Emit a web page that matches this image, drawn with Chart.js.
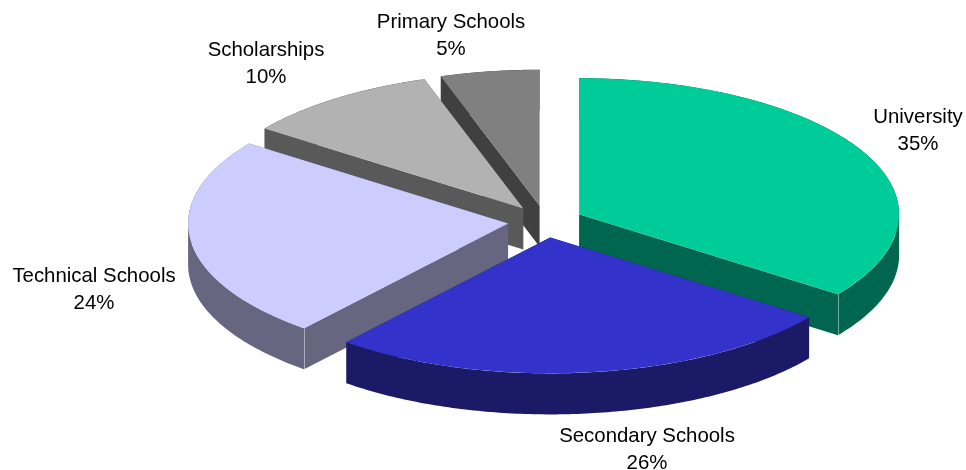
<!DOCTYPE html>
<html>
<head>
<meta charset="utf-8">
<title>Budget shares</title>
<script src="https://cdn.jsdelivr.net/npm/chart.js@4/dist/chart.umd.min.js"></script>
<style>
	html, body { margin: 0; padding: 0; background: #fff; }
	canvas { display: block; }
</style>
</head>
<body>
<canvas id="cnv_pie" width="966" height="470"></canvas>
<script>
const categories = ["University", "Secondary Schools", "Technical Schools", "Scholarships", "Primary Schools"];
const shares = [35, 26, 24, 10, 5];
const topColors = ["#00CC99", "#3333CC", "#CCCCFF", "#B2B2B2", "#808080"];
const wallColors = ["#006650", "#1A1A66", "#666680", "#595959", "#404040"];

// back slices first so the front ones cover their walls
const drawOrder = [4, 3, 2, 0, 1];

const labelCenters = [[918, 117], [647, 436], [94, 276], [266, 50], [451, 22]];

const pieRadius = 320;
const pieCenterY = 221.5;
const flatten = 0.425;
const explode = 37.7;
const depth = 41;

// Point of an arc on the tilted plane, pushed out along its middle angle
const project = (arc, angle, radius) => {
	const mid = (arc.startAngle + arc.endAngle) / 2;
	return {
		x: arc.x + Math.cos(mid) * explode + Math.cos(angle) * radius,
		y: pieCenterY + (Math.sin(mid) * explode + Math.sin(angle) * radius) * flatten
	};
}

const drawTop = (ctx, arc) => {
	const mid = (arc.startAngle + arc.endAngle) / 2;
	ctx.save();
	ctx.translate(0, pieCenterY);
	ctx.scale(1, flatten);
	ctx.translate(Math.cos(mid) * explode, -arc.y + Math.sin(mid) * explode);
	arc.draw(ctx);
	ctx.restore();
}

// The wall is one filled path: a band hanging under every edge of the slice
const drawWall = (ctx, arc, color) => {
	const outline = [project(arc, arc.startAngle, 0)];
	const steps = 120;
	for (let s = 0; s <= steps; s++) {
		const angle = arc.startAngle + (arc.endAngle - arc.startAngle) * s / steps;
		outline.push(project(arc, angle, arc.outerRadius));
	}
	outline.push(outline[0]);

	ctx.save();
	ctx.fillStyle = color;
	ctx.beginPath();
	for (let s = 0; s < outline.length - 1; s++) {
		const [p, q] = outline[s].x <= outline[s + 1].x ? [outline[s], outline[s + 1]] : [outline[s + 1], outline[s]];
		ctx.moveTo(p.x, p.y);
		ctx.lineTo(q.x, q.y);
		ctx.lineTo(q.x, q.y + depth);
		ctx.lineTo(p.x, p.y + depth);
		ctx.closePath();
	}
	ctx.fill();
	ctx.restore();
}

// Thin light line on the corner where the curved wall meets the cut wall
const drawSeam = (ctx, arc, angle) => {
	const { x, y } = project(arc, angle, arc.outerRadius);
	ctx.save();
	ctx.strokeStyle = "rgba(255,255,255,0.45)";
	ctx.lineWidth = 1;
	ctx.beginPath();
	ctx.moveTo(Math.round(x) + 0.5, y);
	ctx.lineTo(Math.round(x) + 0.5, y + depth);
	ctx.stroke();
	ctx.restore();
}

const tiltedPie = {
	id: "tiltedPie",
	beforeDatasetDraw(chart, args) {
		const ctx = chart.ctx;
		const arcs = args.meta.data;
		drawOrder.forEach(i => {
			drawWall(ctx, arcs[i], wallColors[i]);
			if (i === 0) drawSeam(ctx, arcs[i], arcs[i].endAngle);
			if (i === 2) drawSeam(ctx, arcs[i], arcs[i].startAngle);
			drawTop(ctx, arcs[i]);
		});
		return false;
	},
	afterDraw(chart) {
		const ctx = chart.ctx;
		ctx.save();
		ctx.fillStyle = "#000";
		ctx.font = '20.4px "Liberation Sans"';
		ctx.textAlign = "center";
		ctx.textBaseline = "middle";
		categories.forEach((name, i) => {
			const [x, y] = labelCenters[i];
			ctx.fillText(name, x, y);
			ctx.fillText(`${shares[i]}%`, x, y + 27.5);
		});
		ctx.restore();
	}
}

new Chart(document.getElementById("cnv_pie").getContext("2d"), {
	type: "pie",
	plugins: [tiltedPie],
	data: {
		labels: categories,
		datasets: [{
			data: shares,
			backgroundColor: topColors,
			borderWidth: 0,
			radius: pieRadius,
			clip: false
		}]
	},
	options: {
		responsive: false,
		animation: false,
		events: [],
		layout: { padding: { left: 125 } },
		plugins: {
			legend: { display: false },
			tooltip: { enabled: false }
		}
	}
});
</script>
</body>
</html>
